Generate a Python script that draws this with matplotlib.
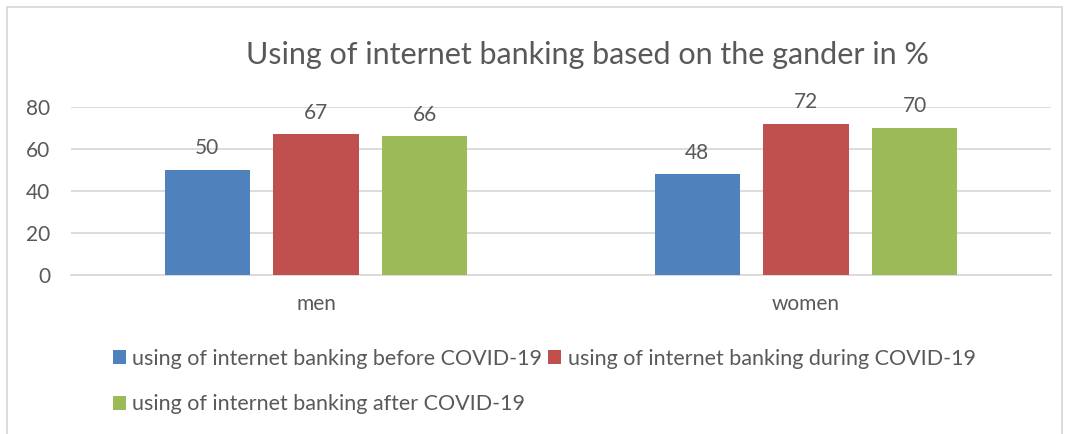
import matplotlib.pyplot as plt
import numpy as np
from matplotlib.patches import Rectangle

plt.rcParams['font.family'] = ['Lato', 'DejaVu Sans']

categories = ["men", "women"]
series_names = ["using of internet banking before COVID-19",
                "using of internet banking during COVID-19",
                "using of internet banking after COVID-19"]
before = [50, 48]
during = [67, 72]
after = [66, 70]
colors = ["#4f81bd", "#c0504d", "#9bbb59"]
text_col = "#595959"

fig = plt.figure(figsize=(10.68, 4.34), dpi=100)
ax = fig.add_axes([71 / 1068, 1 - 275 / 434, 980 / 1068, 168 / 434])

x = np.arange(len(categories))
w = 0.1735
step = 0.2224
bars = []
for i, vals in enumerate([before, during, after]):
    b = ax.bar(x + (i - 1) * step, vals, width=w, color=colors[i], label=series_names[i], zorder=3)
    bars.append(b)
    for xx, v in zip(x + (i - 1) * step, vals):
        ax.text(xx, v + 5.5, str(v), ha="center", va="bottom", fontsize=15, color=text_col)

ax.set_xlim(-0.5, 1.5)
ax.set_ylim(0, 80)
ax.set_yticks([0, 20, 40, 60, 80])
ax.yaxis.grid(True, color="#d9d9d9", linewidth=1.3, zorder=0)
ax.set_xticks(x)
ax.set_xticklabels(categories)
for s in ["top", "right", "left"]:
    ax.spines[s].set_visible(False)
ax.spines["bottom"].set_color("#d9d9d9")
ax.spines["bottom"].set_linewidth(1.3)
ax.tick_params(axis="both", length=0, labelsize=15, labelcolor=text_col)
ax.tick_params(axis="x", pad=14)
ax.tick_params(axis="y", pad=15)

fig.text(587 / 1068, 1 - 55 / 434, "Using of internet banking based on the gander in %",
         ha="center", va="center", fontsize=22, color=text_col)

handles = [bars[0], bars[2], bars[1]]
labels = [series_names[0], series_names[2], series_names[1]]
fig.legend(handles, labels, ncol=2, loc="upper left", bbox_to_anchor=(104 / 1068, 1 - 340 / 434),
           frameon=False, fontsize=15.5, labelcolor=text_col, handlelength=0.6, handleheight=0.6,
           handletextpad=0.3, columnspacing=0.3, labelspacing=1.2, borderaxespad=0)

fig.patches.append(Rectangle((7 / 1068, -0.1), 1055 / 1068, 1.1 - 7 / 434, transform=fig.transFigure,
                             fill=False, edgecolor="#d9d9d9", linewidth=1.3))

fig.savefig("out.png", dpi=100)
